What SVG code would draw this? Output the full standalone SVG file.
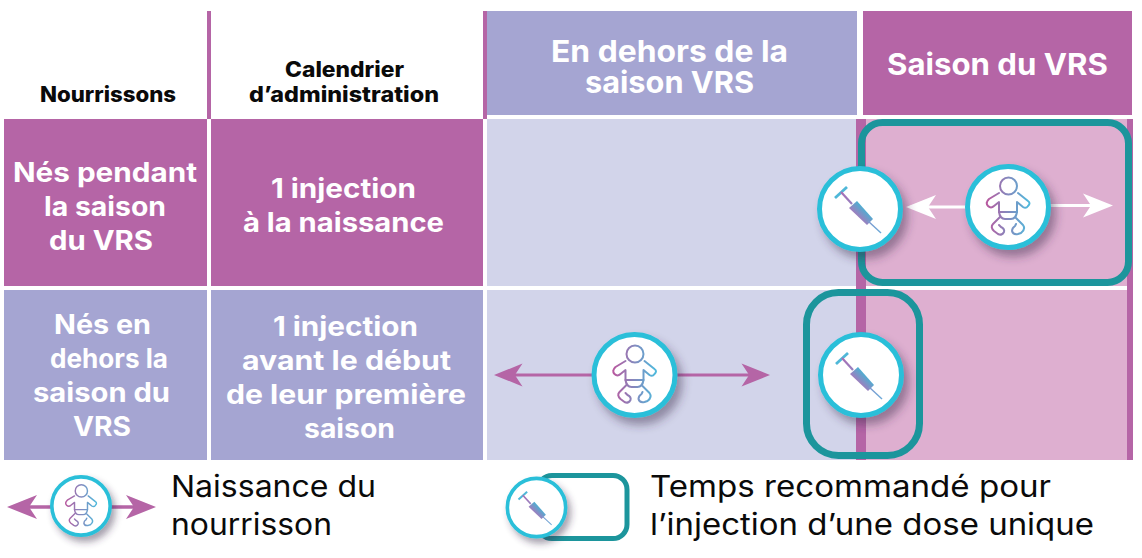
<svg xmlns="http://www.w3.org/2000/svg" xmlns:xlink="http://www.w3.org/1999/xlink" width="1142" height="558" viewBox="0 0 1142 558">
<style>
text{font-family:"Inter","Liberation Sans",sans-serif}
.p{fill:#b565a6}.l{fill:#a5a5d2}.f{fill:#d2d4ea}.k{fill:#deafd0}
.w{fill:#fff;font-weight:700;font-size:26.5px}
.h{fill:#fff;font-weight:700;font-size:30px}
.b{fill:#0a0a0a;font-weight:800;font-size:21px}
.n{fill:#0a0a0a;font-weight:400;font-size:30px}
.t{fill:none;stroke:#1c959c}
.ring{fill:#fff;stroke:#2abfd9;stroke-width:5}
.ic{fill:none;stroke:url(#gb);stroke-width:2;stroke-linecap:round;stroke-linejoin:round}
</style>
<defs>
<linearGradient id="gb" gradientUnits="userSpaceOnUse" x1="-21" y1="0" x2="21" y2="0"><stop offset="0" stop-color="#b85aa0"/><stop offset="1" stop-color="#4fb9dc"/></linearGradient>
<linearGradient id="gs" gradientUnits="userSpaceOnUse" x1="-2" y1="10" x2="8" y2="0"><stop offset="0" stop-color="#ab77bb"/><stop offset="1" stop-color="#3bb9d6"/></linearGradient>
<linearGradient id="gn" gradientUnits="userSpaceOnUse" x1="-19" y1="-17" x2="21" y2="24"><stop offset="0" stop-color="#a86fb5"/><stop offset="1" stop-color="#6aa9d8"/></linearGradient>
<filter id="sh" x="-30%" y="-30%" width="170%" height="170%"><feDropShadow dx="5" dy="7" stdDeviation="5" flood-color="#3a2a4a" flood-opacity="0.45"/></filter>
<g id="baby">
<circle cx="0" cy="0" r="40.5" class="ring" filter="url(#sh)"/>
<g class="ic">
<circle cx="0.5" cy="-21" r="8.5"/>
<path d="M-9,-14 L-19,-8 Q-23,-4 -20,-1 Q-17,2 -14,-1 L-9,-5 V5 H9 V-5 L15,0 Q18,2 20,-1 Q23,-4 20,-6 L10,-14"/>
<path d="M-9,5 Q-8,12 -3,12 H3 Q8,12 9,5"/>
<path d="M-8,10 L-15,17 Q-18,20 -14,24 L-10,27 Q-6,29 -4,25 Q-3,22 -7,20 L-9,18"/>
<path d="M8,11 L15,18 Q18,22 13,26 L10,27 Q5,28 4,24 Q4,21 7,19 L8,17"/>
</g>
</g>
<g id="syr">
<circle cx="0" cy="0" r="40.5" class="ring" filter="url(#sh)"/>
<path d="M-25,-11 L-13,-22" fill="none" stroke="#4fb8d8" stroke-width="2.8"/>
<path d="M-19,-17 L-8,-5" fill="none" stroke="url(#gn)" stroke-width="2.2"/>
<path d="M-3,-8 L13,10 L7,16 L-11,-1 Z" fill="url(#gs)"/>
<path d="M8,12 L21,24" fill="none" stroke="url(#gn)" stroke-width="1.4"/>
</g>
<path id="ah" d="M0,0 L30,-12 L22,0 L30,12 Z"/>
</defs>

<g id="grid">
<rect class="p" x="207" y="11" width="4" height="108"/>
<rect class="p" x="483" y="11" width="4" height="108"/>
<rect class="l" x="487" y="11" width="370" height="104"/>
<rect class="p" x="863" y="11" width="269" height="104"/>
<rect class="p" x="4" y="119" width="203" height="167"/>
<rect class="p" x="211" y="119" width="272" height="167"/>
<rect class="f" x="487" y="119" width="370" height="167"/>
<rect class="k" x="866" y="119" width="261" height="167"/>
<rect class="l" x="4" y="290" width="203" height="170"/>
<rect class="l" x="211" y="290" width="272" height="170"/>
<rect class="f" x="487" y="290" width="370" height="170"/>
<rect class="k" x="866" y="290" width="261" height="170"/>
<rect class="p" x="856" y="119" width="10" height="341"/>
<rect class="p" x="1127" y="119" width="6" height="341"/>
</g>

<g id="headers">
<text class="b" x="40" y="102" textLength="136" lengthAdjust="spacingAndGlyphs">Nourrissons</text>
<text class="b" x="285" y="77" textLength="119" lengthAdjust="spacingAndGlyphs">Calendrier</text>
<text class="b" x="249" y="102" textLength="190" lengthAdjust="spacingAndGlyphs">d’administration</text>
<text class="h" x="551" y="62" textLength="237" lengthAdjust="spacingAndGlyphs">En dehors de la</text>
<text class="h" x="585" y="93" textLength="169" lengthAdjust="spacingAndGlyphs">saison VRS</text>
<text class="h" x="887" y="75" textLength="221" lengthAdjust="spacingAndGlyphs">Saison du VRS</text>
</g>

<g id="row1-labels">
<text class="w" x="13" y="182" textLength="184" lengthAdjust="spacingAndGlyphs">Nés pendant</text>
<text class="w" x="44" y="216" textLength="122" lengthAdjust="spacingAndGlyphs">la saison</text>
<text class="w" x="49" y="250" textLength="104" lengthAdjust="spacingAndGlyphs">du VRS</text>
<text class="w" x="271" y="198" textLength="145" lengthAdjust="spacingAndGlyphs">1 injection</text>
<text class="w" x="243" y="232" textLength="201" lengthAdjust="spacingAndGlyphs">à la naissance</text>
</g>
<g id="row2-labels">
<text class="w" x="54" y="334" textLength="97" lengthAdjust="spacingAndGlyphs">Nés en</text>
<text class="w" x="50" y="368" textLength="118" lengthAdjust="spacingAndGlyphs">dehors la</text>
<text class="w" x="33" y="402" textLength="137" lengthAdjust="spacingAndGlyphs">saison du</text>
<text class="w" x="73" y="436" textLength="58" lengthAdjust="spacingAndGlyphs">VRS</text>
<text class="w" x="273" y="336" textLength="145" lengthAdjust="spacingAndGlyphs">1 injection</text>
<text class="w" x="242" y="370" textLength="209" lengthAdjust="spacingAndGlyphs">avant le début</text>
<text class="w" x="226" y="404" textLength="240" lengthAdjust="spacingAndGlyphs">de leur première</text>
<text class="w" x="304" y="438" textLength="91" lengthAdjust="spacingAndGlyphs">saison</text>
</g>

<g id="connectors">
<rect class="t" x="861.5" y="122.5" width="267" height="160" rx="21" stroke-width="7"/>
<rect class="t" x="806.5" y="292.5" width="113" height="163" rx="32" stroke-width="7"/>
<g fill="#fff" stroke="#fff">
<path d="M925,207 H970" stroke-width="3" fill="none"/>
<path d="M1045,205.5 H1095" stroke-width="3" fill="none"/>
<use href="#ah" transform="translate(906,207)" stroke="none"/>
<use href="#ah" transform="translate(1113,205.5) scale(-1,1)" stroke="none"/>
</g>
<g fill="#b565a6">
<path d="M515,375 H596 M672,375 H750" stroke="#b565a6" stroke-width="3" fill="none"/>
<use href="#ah" transform="translate(494,375) scale(.95)"/>
<use href="#ah" transform="translate(770,375) scale(-.95,.95)"/>
<path d="M28,507 H55 M108,507 H135" stroke="#b565a6" stroke-width="3.5" fill="none"/>
<use href="#ah" transform="translate(7,507)"/>
<use href="#ah" transform="translate(156,507) scale(-1,1)"/>
</g>
<rect class="t" x="538" y="475.5" width="89" height="63" rx="14" stroke-width="5"/>
</g>

<g id="n-syringe-1"><use href="#syr" transform="translate(860,209)"/></g>
<g id="n-baby-1"><use href="#baby" transform="translate(1008,207)"/></g>
<g id="n-baby-2"><use href="#baby" transform="translate(634.5,375)"/></g>
<g id="n-syringe-2"><use href="#syr" transform="translate(861,375)"/></g>

<g id="legend-baby">
<use href="#baby" transform="translate(81,506) scale(.72)"/>
<text class="n" x="171" y="497" textLength="205" lengthAdjust="spacingAndGlyphs">Naissance du</text>
<text class="n" x="171" y="535" textLength="161" lengthAdjust="spacingAndGlyphs">nourrisson</text>
</g>
<g id="legend-syringe">
<use href="#syr" transform="translate(536.5,507.5) scale(.72)"/>
<text class="n" x="650" y="497" textLength="401" lengthAdjust="spacingAndGlyphs">Temps recommandé pour</text>
<text class="n" x="650" y="535" textLength="444" lengthAdjust="spacingAndGlyphs">l’injection d’une dose unique</text>
</g>
</svg>
